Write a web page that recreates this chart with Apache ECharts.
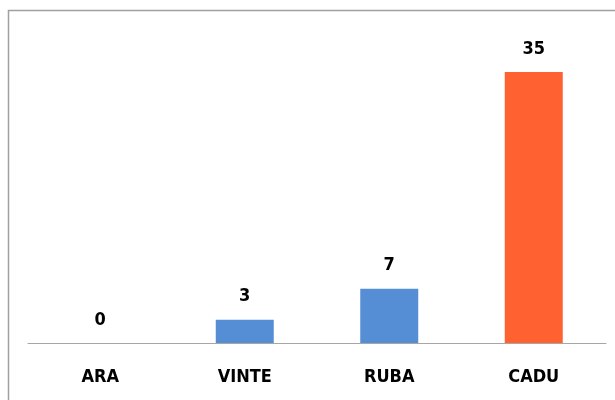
<!DOCTYPE html>
<html>
<head>
<meta charset="utf-8">
<script src="https://cdn.jsdelivr.net/npm/echarts@6/dist/echarts.min.js"></script>
<style>
  html, body { margin: 0; padding: 0; background: #fff; }
  #chart { width: 615px; height: 400px; }
</style>
</head>
<body>
<div id="chart"></div>
<script>
const categories = ['ARA', 'VINTE', 'RUBA', 'CADU']
const values = [0, 3, 7, 35]
const barColors = ['#558ed5', '#558ed5', '#558ed5', '#ff6230']

const labelFont = '"DejaVu Sans Condensed", "Open Sans", sans-serif'

const chart = echarts.init(document.getElementById('chart'))
chart.setOption({
  animation: false,
  graphic: [{
    type: 'rect',
    shape: { x: 8.5, y: 10.5, width: 620, height: 400 },
    style: { fill: 'none', stroke: '#a0a0a0', lineWidth: 1.5 }
  }],
  grid: {
    left: 28,
    right: 9,
    top: 72,
    bottom: 57
  },
  xAxis: {
    type: 'category',
    data: categories,
    axisTick: { show: false },
    axisLine: { lineStyle: { color: '#a6a6a6', width: 1 } },
    axisLabel: {
      color: '#000',
      fontWeight: 'bold',
      fontSize: 18,
      fontFamily: labelFont,
      margin: 25
    }
  },
  yAxis: {
    type: 'value',
    min: 0,
    max: 35,
    show: false,
    splitLine: { show: false }
  },
  series: [{
    type: 'bar',
    data: values.map((v, i) => ({ value: v, itemStyle: { color: barColors[i] } })),
    barWidth: 58,
    label: {
      show: true,
      position: 'top',
      distance: 14,
      color: '#000',
      fontWeight: 'bold',
      fontSize: 18,
      fontFamily: labelFont
    }
  }]
})
</script>
</body>
</html>
